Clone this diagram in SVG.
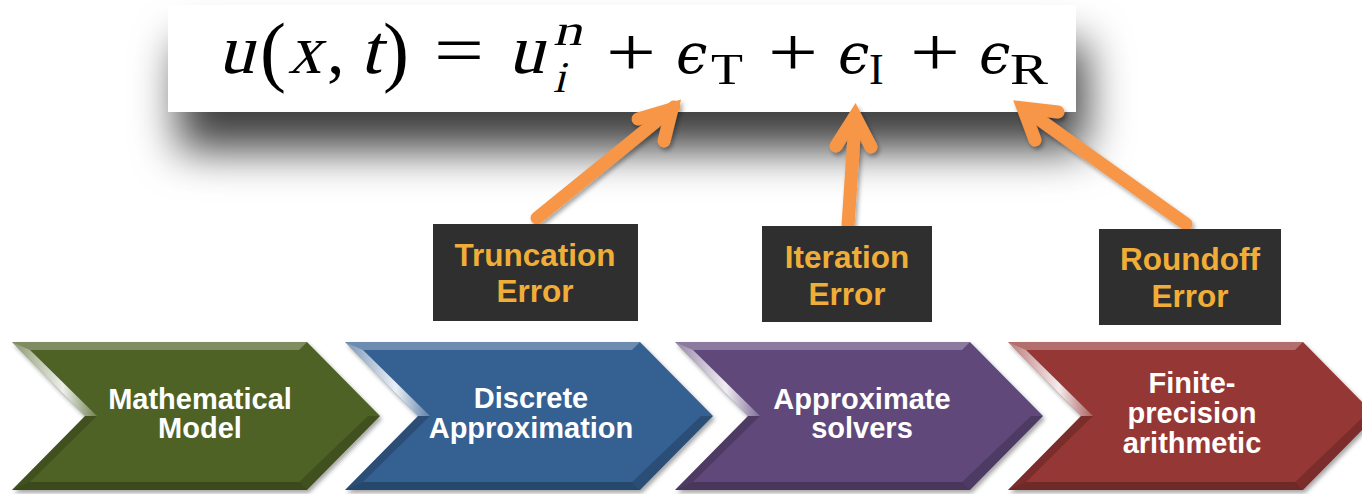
<svg xmlns="http://www.w3.org/2000/svg" width="1362" height="494" viewBox="0 0 1362 494">
<defs>
<style>
.eq{font-family:"Liberation Serif","Times New Roman",serif;fill:#000}
.ep{font-family:"DejaVu Serif",serif;font-style:italic;font-size:56px}
.cap{font-family:"Liberation Sans",Arial,sans-serif;font-weight:bold;font-size:29px;fill:#fff;text-anchor:middle}
.lab{font-family:"Liberation Sans",Arial,sans-serif;font-weight:bold;font-size:31.5px;fill:#F0AE38;text-anchor:middle}
.box{fill:#2F2F2F}
.arr{fill:none;stroke:#F79646;stroke-width:13;stroke-linecap:round;stroke-linejoin:miter;stroke-miterlimit:4}
.hl{fill:url(#gHl)}
.top{fill:#fff;opacity:0.28}
.dark{fill:#000;opacity:0.25}
.rdark{fill:#000;opacity:0.18}
</style>
<filter id="fBox" x="-10%" y="-50%" width="125%" height="240%">
<feDropShadow dx="10" dy="38" stdDeviation="22" flood-color="#000" flood-opacity="0.75"/>
</filter>
<filter id="fSh" x="-10%" y="-10%" width="130%" height="130%">
<feDropShadow dx="2" dy="3" stdDeviation="2" flood-color="#000" flood-opacity="0.35"/>
</filter>
<linearGradient id="gHl" x1="0" y1="0" x2="1" y2="0">
<stop offset="0" stop-color="#fff" stop-opacity="0.35"/>
<stop offset="0.6" stop-color="#fff" stop-opacity="0.9"/>
<stop offset="1" stop-color="#fff" stop-opacity="0.2"/>
</linearGradient>
</defs>

<g id="equation">
<rect x="168" y="5" width="908" height="107" fill="#fff" filter="url(#fBox)"/>
<g class="eq" font-size="70">
<g transform="translate(218,73) skewX(-14)"><text x="0" y="0" textLength="36" lengthAdjust="spacingAndGlyphs">u</text></g>
<text x="260" y="77" font-size="78">(</text>
<g transform="translate(288,73) skewX(-14)"><text x="0" y="0" textLength="33" lengthAdjust="spacingAndGlyphs">x</text></g>
<text x="327" y="73">,</text>
<g transform="translate(360,73) skewX(-14)"><text x="0" y="0" textLength="21" lengthAdjust="spacingAndGlyphs">t</text></g>
<text x="383" y="77" font-size="78">)</text>
<text x="434" y="74" textLength="50" lengthAdjust="spacingAndGlyphs">=</text>
<g transform="translate(508,73) skewX(-14)"><text x="0" y="0" textLength="36" lengthAdjust="spacingAndGlyphs">u</text></g>
<g transform="translate(553,45) skewX(-14)"><text x="0" y="0" font-size="44" textLength="29" lengthAdjust="spacingAndGlyphs">n</text></g>
<g transform="translate(553,92) skewX(-14)"><text x="0" y="0" font-size="44">i</text></g>
<text x="606" y="76" textLength="50" lengthAdjust="spacingAndGlyphs">+</text>
<text class="ep" x="676" y="73">ϵ</text>
<text x="711" y="84" font-size="44" textLength="32" lengthAdjust="spacingAndGlyphs">T</text>
<text x="768" y="76" textLength="50" lengthAdjust="spacingAndGlyphs">+</text>
<text class="ep" x="838" y="73">ϵ</text>
<text x="869" y="84" font-size="44">I</text>
<text x="910" y="76" textLength="50" lengthAdjust="spacingAndGlyphs">+</text>
<text class="ep" x="979" y="73">ϵ</text>
<text x="1010" y="84" font-size="44" textLength="38" lengthAdjust="spacingAndGlyphs">R</text>
</g>
</g>

<g id="stage1">
<g filter="url(#fSh)"><polygon points="12,342 307,342 380,416 307,490 12,490 85,416" fill="#4F6228"/></g>
<polygon class="top" points="12,342 307,342 299,350 30,350"/>
<polygon class="hl" points="12,342 30,350 97,416 85,416"/>
<polygon class="rdark" points="85,416 97,416 30,482 12,490"/>
<polygon class="dark" points="12,490 30,482 299,482 307,490"/>
<polygon class="rdark" points="380,416 368,416 299,482 307,490"/>
<text class="cap" x="200" y="409">Mathematical</text>
<text class="cap" x="200" y="438">Model</text>
</g>

<g id="stage2">
<g filter="url(#fSh)"><polygon points="345,342 640,342 713,416 640,490 345,490 418,416" fill="#366092"/></g>
<polygon class="top" points="345,342 640,342 632,350 363,350"/>
<polygon class="hl" points="345,342 363,350 430,416 418,416"/>
<polygon class="rdark" points="418,416 430,416 363,482 345,490"/>
<polygon class="dark" points="345,490 363,482 632,482 640,490"/>
<polygon class="rdark" points="713,416 701,416 632,482 640,490"/>
<text class="cap" x="531" y="408">Discrete</text>
<text class="cap" x="531" y="438">Approximation</text>
</g>

<g id="stage3">
<g filter="url(#fSh)"><polygon points="675,342 970,342 1043,416 970,490 675,490 748,416" fill="#60497A"/></g>
<polygon class="top" points="675,342 970,342 962,350 693,350"/>
<polygon class="hl" points="675,342 693,350 760,416 748,416"/>
<polygon class="rdark" points="748,416 760,416 693,482 675,490"/>
<polygon class="dark" points="675,490 693,482 962,482 970,490"/>
<polygon class="rdark" points="1043,416 1031,416 962,482 970,490"/>
<text class="cap" x="862" y="409">Approximate</text>
<text class="cap" x="862" y="438">solvers</text>
</g>

<g id="stage4">
<g filter="url(#fSh)"><polygon points="1008,342 1303,342 1376,416 1303,490 1008,490 1081,416" fill="#953735"/></g>
<polygon class="top" points="1008,342 1303,342 1295,350 1026,350"/>
<polygon class="hl" points="1008,342 1026,350 1093,416 1081,416"/>
<polygon class="rdark" points="1081,416 1093,416 1026,482 1008,490"/>
<polygon class="dark" points="1008,490 1026,482 1295,482 1303,490"/>
<polygon class="rdark" points="1376,416 1364,416 1295,482 1303,490"/>
<text class="cap" x="1192" y="393">Finite-</text>
<text class="cap" x="1192" y="423">precision</text>
<text class="cap" x="1192" y="453">arithmetic</text>
</g>

<g id="connectors" filter="url(#fSh)">
<path class="arr" d="M537,218 L674,107"/>
<path class="arr" d="M638,119 L672,109 L664,141"/>
<path class="arr" d="M848,225 L855,122"/>
<path class="arr" d="M836,146 L855,116 L871,147"/>
<path class="arr" d="M1186,224 L1026,110"/>
<path class="arr" d="M1058,112 L1023,108 L1035,140"/>
</g>

<g id="truncation">
<rect class="box" x="433" y="224" width="205" height="97"/>
<text class="lab" x="535" y="266">Truncation</text>
<text class="lab" x="535" y="302">Error</text>
</g>
<g id="iteration">
<rect class="box" x="762" y="226" width="170" height="96"/>
<text class="lab" x="847" y="268">Iteration</text>
<text class="lab" x="847" y="305">Error</text>
</g>
<g id="roundoff">
<rect class="box" x="1099" y="229" width="182" height="96"/>
<text class="lab" x="1190" y="270">Roundoff</text>
<text class="lab" x="1190" y="307">Error</text>
</g>
</svg>
